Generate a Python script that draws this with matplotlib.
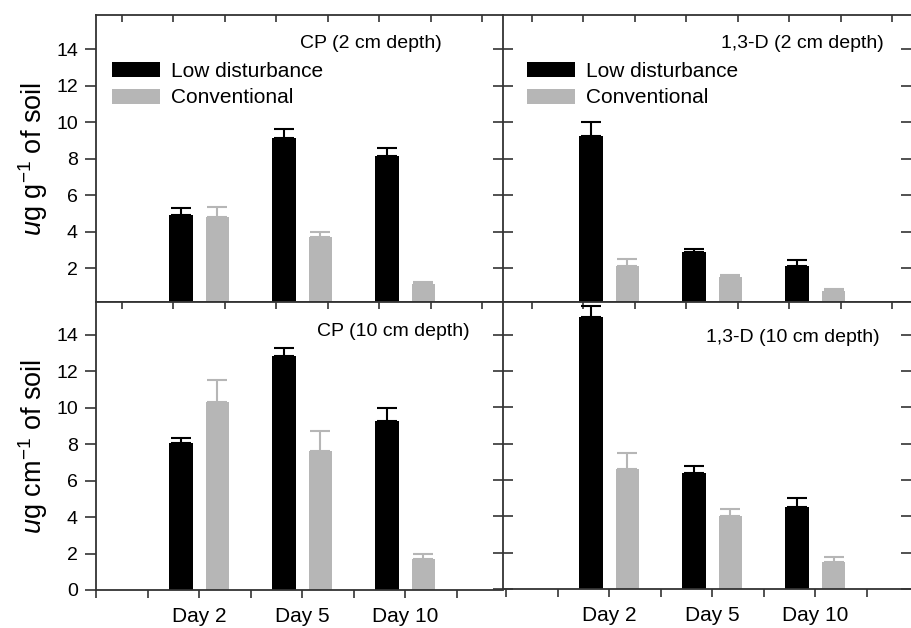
import numpy as np
import matplotlib
matplotlib.use("Agg")
import matplotlib.pyplot as plt
from matplotlib.patches import Patch

plt.rcParams['font.family'] = ['Liberation Sans', 'DejaVu Sans']
plt.rcParams['mathtext.fontset'] = 'custom'
plt.rcParams['mathtext.rm'] = 'Liberation Sans'
plt.rcParams['mathtext.it'] = 'Liberation Sans:italic'

# ---------------- data ----------------
days = ["Day 2", "Day 5", "Day 10"]
series_names = ["Low disturbance", "Conventional"]

cp2_low = [4.92, 9.15, 8.15]
cp2_low_err = [0.36, 0.47, 0.45]
cp2_conv = [4.83, 3.73, 1.13]
cp2_conv_err = [0.54, 0.27, 0.14]

cp10_low = [8.04, 12.84, 9.25]
cp10_low_err = [0.29, 0.46, 0.73]
cp10_conv = [10.33, 7.63, 1.72]
cp10_conv_err = [1.21, 1.08, 0.26]

d2_low = [9.26, 2.88, 2.15]
d2_low_err = [0.76, 0.18, 0.31]
d2_conv = [2.15, 1.51, 0.76]
d2_conv_err = [0.34, 0.13, 0.11]

d10_low = [15.0, 6.41, 4.51]
d10_low_err = [0.60, 0.38, 0.51]
d10_conv = [6.59, 4.00, 1.50]
d10_conv_err = [0.90, 0.41, 0.25]

titles = ["CP (2 cm depth)", "CP (10 cm depth)",
          "1,3-D (2 cm depth)", "1,3-D (10 cm depth)"]
ylabels = [r"$\it{u}$g g$^{-1}$ of soil", r"$\it{u}$g cm$^{-1}$ of soil"]

# ---------------- style ----------------
BLACK = "#000000"
GREY = "#b6b6b6"
SPINE = "#333333"
W, H = 911, 628

fig = plt.figure(figsize=(W / 100, H / 100), dpi=100)


def pos(x0, y0, x1, y1):
    return [x0 / W, 1 - y1 / H, (x1 - x0) / W, (y1 - y0) / H]


ax_tl = fig.add_axes(pos(96, 15, 503, 302))
ax_bl = fig.add_axes(pos(96, 302, 503, 590))
ax_tr = fig.add_axes(pos(503, 15, 911, 302))
ax_br = fig.add_axes(pos(503, 302, 911, 589))

x = np.arange(1, len(days) + 1)
off = 0.178
bw = 0.23
half_ticks = np.arange(0, 4.0, 0.5)
quarter_ticks = np.arange(0.25, 4.0, 0.5)


def draw(ax, low, low_err, conv, conv_err):
    for vals, errs, col, sgn in ((low, low_err, BLACK, -1), (conv, conv_err, GREY, 1)):
        vals = np.asarray(vals)
        errs = np.asarray(errs)
        ax.bar(x + sgn * off, vals, bw, color=col, edgecolor='none', zorder=2)
        ax.errorbar(x + sgn * off, vals, yerr=[np.zeros_like(errs), errs],
                    fmt='none', ecolor=col, elinewidth=1.5, capsize=7,
                    capthick=1.5, zorder=3)
    for s in ax.spines.values():
        s.set_color(SPINE)
        s.set_linewidth(1.3)


draw(ax_tl, cp2_low, cp2_low_err, cp2_conv, cp2_conv_err)
draw(ax_bl, cp10_low, cp10_low_err, cp10_conv, cp10_conv_err)
draw(ax_tr, d2_low, d2_low_err, d2_conv, d2_conv_err)
draw(ax_br, d10_low, d10_low_err, d10_conv, d10_conv_err)

# limits
for ax in (ax_tl, ax_tr):
    ax.set_ylim(0.16, 15.86)
for ax in (ax_bl, ax_br):
    ax.set_ylim(0, 15.8)
for ax in (ax_tl, ax_bl):
    ax.set_xlim(0, 3.95)
for ax in (ax_tr, ax_br):
    ax.set_xlim(-0.03, 3.93)

# left column y axes
for ax, ticks in ((ax_tl, np.arange(2, 15, 2)), (ax_bl, np.arange(0, 15, 2))):
    ax.set_yticks(ticks)
    ax.tick_params(axis='y', direction='out', length=8, width=1.2, color=SPINE,
                   labelsize=14, pad=5, left=True, right=False)
    ax.spines['right'].set_visible(False)

# right column y axes
for ax in (ax_tr, ax_br):
    ax.set_yticks(np.arange(2, 15, 2) if ax is ax_tr else np.arange(0, 15, 2))
    ax.tick_params(axis='y', direction='inout', length=14, width=1.2, color=SPINE,
                   left=True, right=True, labelleft=False, labelright=False)
    ax.spines['right'].set_visible(False)

# top panels: x ticks on top, pointing in (quarter positions)
for ax in (ax_tl, ax_tr):
    ax.set_xticks(quarter_ticks)
    ax.tick_params(axis='x', direction='in', length=5, width=1.2, color=SPINE,
                   top=True, bottom=False, labeltop=False, labelbottom=False)

# bottom panels: x ticks on bottom (half positions) with day labels
for ax in (ax_bl, ax_br):
    ax.set_xticks(half_ticks)
    labels = [""] * len(half_ticks)
    for xi, d in zip(x, days):
        labels[int(round(xi / 0.5))] = d
    ax.set_xticklabels(labels)
    ax.tick_params(axis='x', direction='out', length=6, width=1.2, color=SPINE,
                   labelsize=15, pad=6, top=False, bottom=True)
    sec = ax.secondary_xaxis('top')
    sec.set_xticks(quarter_ticks)
    sec.tick_params(axis='x', direction='in', length=5, width=1.2, color=SPINE,
                    labeltop=False)
    sec.spines['top'].set_visible(False)

# y labels
ax_tl.set_ylabel(ylabels[0], fontsize=19.5)
ax_bl.set_ylabel(ylabels[1], fontsize=19.5)
ax_tl.yaxis.set_label_coords(-0.113, 0.5)
ax_bl.yaxis.set_label_coords(-0.113, 0.5)

# panel titles
ax_tl.text(0.850, 0.902, titles[0], transform=ax_tl.transAxes, ha='right', va='center', fontsize=14)
ax_bl.text(0.919, 0.896, titles[1], transform=ax_bl.transAxes, ha='right', va='center', fontsize=14)
ax_tr.text(0.934, 0.902, titles[2], transform=ax_tr.transAxes, ha='right', va='center', fontsize=14)
ax_br.text(0.922, 0.878, titles[3], transform=ax_br.transAxes, ha='right', va='center', fontsize=14)

# legends
handles = [Patch(facecolor=BLACK, edgecolor='none'), Patch(facecolor=GREY, edgecolor='none')]
for ax, bx in ((ax_tl, 0.039), (ax_tr, 0.059)):
    ax.legend(handles, series_names, loc='upper left', bbox_to_anchor=(bx, 0.836),
              frameon=False, fontsize=15, handlelength=2.3, handleheight=0.72,
              handletextpad=0.55, labelspacing=0.35, borderpad=0, borderaxespad=0)

fig.savefig("out.png", dpi=100, facecolor='white')
